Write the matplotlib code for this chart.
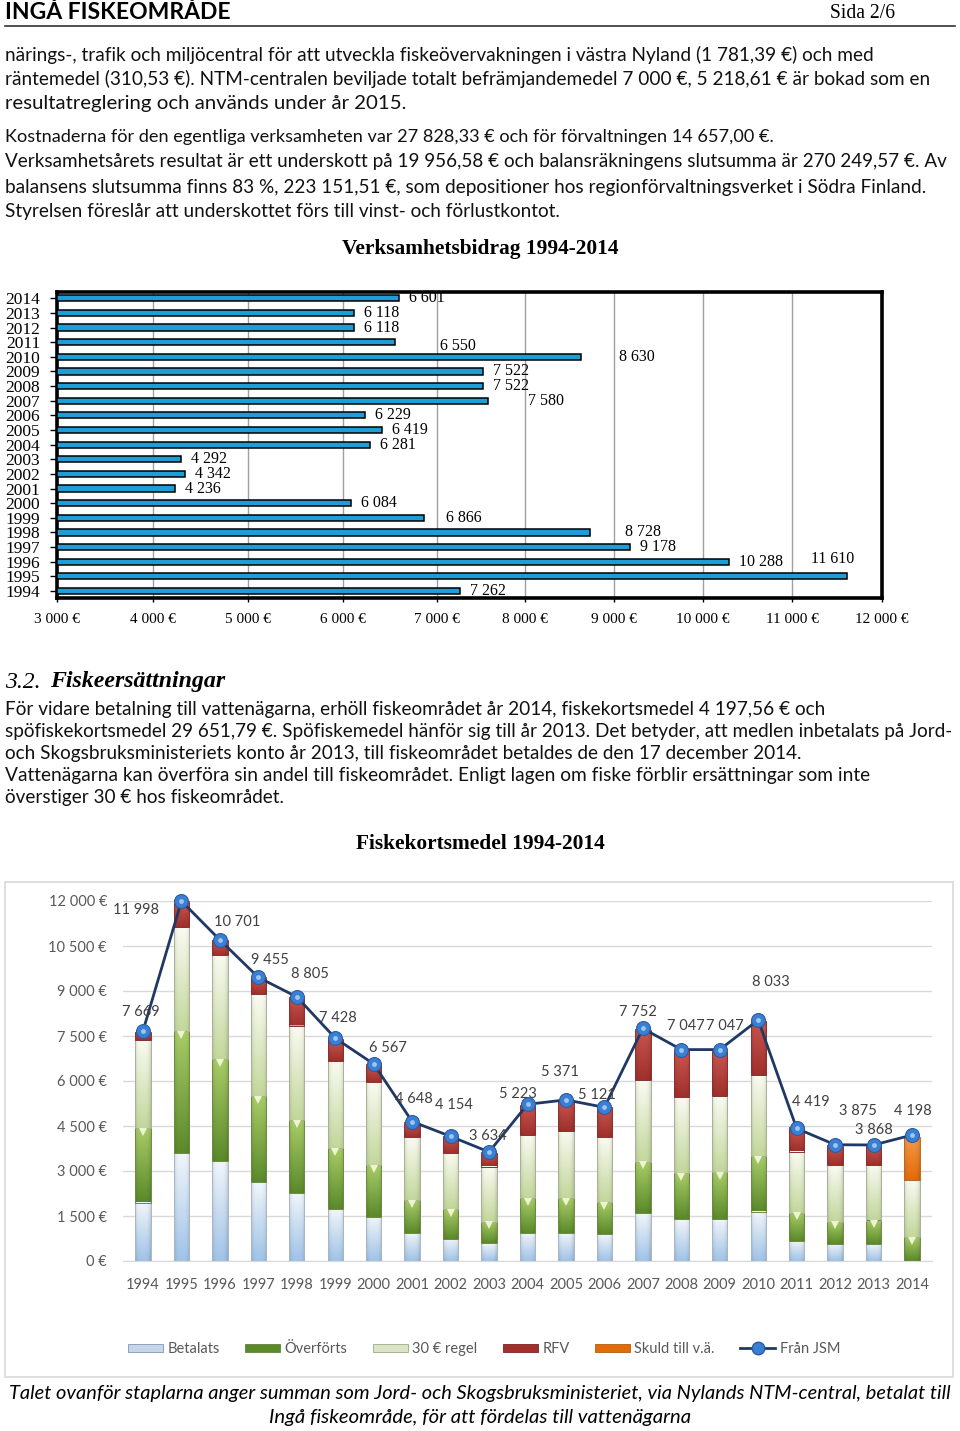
import numpy as np
import matplotlib
matplotlib.use("Agg")
import matplotlib.pyplot as plt
from matplotlib.colors import to_rgb
from matplotlib.patches import Patch, Rectangle
from matplotlib.lines import Line2D
from matplotlib.ticker import FuncFormatter, MultipleLocator, FixedLocator, NullLocator

# ---------------- data ----------------
years = list(range(1994, 2015))
verksamhetsbidrag = [7262, 11610, 10288, 9178, 8728, 6866, 6084, 4236, 4342, 4292,
                     6281, 6419, 6229, 7580, 7522, 7522, 8630, 6550, 6118, 6118, 6601]
bar_ticks = [3000, 4000, 5000, 6000, 7000, 8000, 9000, 10000, 11000, 12000]

betalats = [1950, 3600, 3320, 2620, 2280, 1725, 1480, 945, 735, 590, 945, 945, 900,
            1590, 1390, 1390, 1650, 680, 570, 570, 0]
overforts = [2480, 4080, 3425, 2890, 2430, 2035, 1725, 1090, 990, 725, 1145, 1145, 1080,
             1725, 1535, 1590, 1855, 935, 745, 780, 790]
regel30 = [2925, 3450, 3470, 3395, 3140, 2915, 2750, 2090, 1890, 1835, 2115, 2250, 2150,
           2725, 2540, 2525, 2705, 2035, 1890, 1855, 1915]
rfv = [265, 835, 480, 535, 925, 725, 590, 490, 535, 445, 1000, 1015, 970,
       1670, 1525, 1480, 1780, 780, 635, 635, 0]
skuld = [0] * 20 + [1445]
fran_jsm = [7669, 11998, 10701, 9455, 8805, 7428, 6567, 4648, 4154, 3634, 5223, 5371,
            5121, 7752, 7047, 7047, 8033, 4419, 3875, 3868, 4198]

series_names = ["Betalats", "Överförts", "30 € regel", "RFV", "Skuld till v.ä."]
line_name = "Från JSM"

# ---------------- layout / style ----------------
W, H = 960, 1431
fig = plt.figure(figsize=(W / 100, H / 100), dpi=100)
renderer = fig.canvas.get_renderer()

SANS = ["Lato", "DejaVu Sans"]
SERIF = ["Liberation Serif", "DejaVu Serif"]


def fx(px):
    return px / W


def fy(py):
    return 1 - py / H


def fit_text(x, y, s, width, ha="left", base=12, **kw):
    t = fig.text(fx(x), fy(y), s, ha=ha, va="center", fontsize=base, **kw)
    bb = t.get_window_extent(renderer)
    t.set_fontsize(base * width / bb.width)
    return t


def fmt_num(v):
    return f"{v:,}".replace(",", "\u00a0")


# ---- header ----
fit_text(5, 12, "INGÅ FISKEOMRÅDE", 225, family=SANS, weight="bold")
fit_text(830, 14, "Sida 2/6", 65, family=SERIF)
fig.add_artist(Line2D([fx(5), fx(955)], [fy(26), fy(26)], color="#333333", lw=1.2,
                      transform=fig.transFigure))

body_top = [
    ("närings-, trafik och miljöcentral för att utveckla fiskeövervakningen i västra Nyland (1 781,39 €) och med", 55, 865),
    ("räntemedel (310,53 €). NTM-centralen beviljade totalt befrämjandemedel 7 000 €, 5 218,61 € är bokad som en", 79, 920),
    ("resultatreglering och används under år 2015.", 104, 400),
    ("Kostnaderna för den egentliga verksamheten var 27 828,33 € och för förvaltningen 14 657,00 €.", 137, 768),
    ("Verksamhetsårets resultat är ett underskott på 19 956,58 € och balansräkningens slutsumma är 270 249,57 €. Av", 162, 938),
    ("balansens slutsumma finns 83 %, 223 151,51 €, som depositioner hos regionförvaltningsverket i Södra Finland.", 187, 916),
    ("Styrelsen föreslår att underskottet förs till vinst- och förlustkontot.", 212, 553),
]
for s, y, w in body_top:
    fit_text(5, y, s, w, family=SANS, color="#111111")

# ---- chart 1: horizontal bars ----
fit_text(480, 249, "Verksamhetsbidrag 1994-2014", 276, ha="center", family=SERIF,
         weight="bold")

ax1 = fig.add_axes([fx(57), fy(598), fx(882) - fx(57), (598 - 291.7) / H])
# the source chart's value axis is slightly uneven; reproduce its gridline spacing
scale_vals = np.array([2000, 3000, 4000, 5000, 6000, 7000, 8000, 9000, 10000, 11000,
                       12000, 13000], float)
scale_pos = np.array([-38.7, 57, 152.7, 248.3, 343.3, 437, 525.3, 614.3, 703.3, 792.3,
                      882.3, 972.3])


def _fwd(v):
    return np.interp(np.asarray(v, float), scale_vals, scale_pos)


def _inv(p):
    return np.interp(np.asarray(p, float), scale_pos, scale_vals)


ax1.set_xscale("function", functions=(_fwd, _inv))
ypos = np.arange(len(years))
ax1.barh(ypos, [v - 3000 for v in verksamhetsbidrag], left=3000, height=0.42,
         color="#1f9dd6", edgecolor="black", linewidth=1.1, zorder=3)
ax1.set_xlim(3000, 12000)
ax1.set_ylim(-0.48, 20.45)
ax1.xaxis.set_major_locator(FixedLocator(bar_ticks))
ax1.xaxis.set_minor_locator(NullLocator())
ax1.xaxis.set_major_formatter(FuncFormatter(lambda v, p: fmt_num(int(round(v))) + "\u00a0€"))
ax1.set_yticks(ypos)
ax1.set_yticklabels([str(y) for y in years])
ax1.grid(axis="x", color="#a0a0a0", lw=1, zorder=0)
for sp in ax1.spines.values():
    sp.set_linewidth(2.6)
    sp.set_color("black")
ax1.tick_params(axis="y", length=5, width=1, pad=7, labelsize=12.5, direction="out")
ax1.tick_params(axis="x", length=3, width=1, pad=8, labelsize=11, direction="out")
for lab in ax1.get_xticklabels() + ax1.get_yticklabels():
    lab.set_fontfamily(SERIF)

# label nudges (pixels: dx right, dy down) for manually moved labels
label_nudge = {2011: (35, 4), 2010: (28, 0), 2007: (30, 0), 1999: (12, 0),
               1998: (25, 0), 1995: (-46, -17)}
for i, (yr, v) in enumerate(zip(years, verksamhetsbidrag)):
    dx, dy = label_nudge.get(yr, (0, 0))
    ax1.annotate(fmt_num(v), (v, i), xytext=(10 + dx, -dy), textcoords="offset pixels",
                 ha="left", va="center", fontsize=11.5, family=SERIF, zorder=4)

# ---- section heading and text ----
fig.text(fx(5), fy(682), "3.2.", fontsize=17, family=SERIF, style="italic",
         va="center", ha="left")
fit_text(50, 682, "Fiskeersättningar", 175, family=SERIF, style="italic", weight="bold")

body_low = [
    ("För vidare betalning till vattenägarna, erhöll fiskeområdet år 2014, fiskekortsmedel 4 197,56 € och", 709, 817),
    ("spöfiskekortsmedel 29 651,79 €. Spöfiskemedel hänför sig till år 2013. Det betyder, att medlen inbetalats på Jord-", 731, 943),
    ("och Skogsbruksministeriets konto år 2013, till fiskeområdet betaldes de den 17 december 2014.", 754, 794),
    ("Vattenägarna kan överföra sin andel till fiskeområdet. Enligt lagen om fiske förblir ersättningar som inte", 776, 862),
    ("överstiger 30 € hos fiskeområdet.", 798, 278),
]
for s, y, w in body_low:
    fit_text(5, y, s, w, family=SANS, color="#111111")

fit_text(480, 844, "Fiskekortsmedel 1994-2014", 248, ha="center", family=SERIF,
         weight="bold")

# ---- chart 2: stacked bars + line ----
fig.add_artist(Rectangle((fx(5), fy(1377)), fx(953) - fx(5), (1377 - 882) / H,
                         transform=fig.transFigure, fill=False, edgecolor="#d9d9d9",
                         lw=1.2))

ax2 = fig.add_axes([fx(123), fy(1261), fx(932) - fx(123), 360 / H])
x = np.arange(len(years))
bw = 0.40

seg_styles = [  # (top colour, bottom colour, edge)
    ("#f2f6fb", "#9fc3e7", "#a9b6c6"),
    ("#a9cd68", "#5b8a2a", "#6f8a48"),
    ("#fafbf2", "#c3d79b", "#a8b096"),
    ("#c9554f", "#a0302c", "#8a3030"),
    ("#f59a48", "#e26b0a", "#b86a20"),
]
stack = [betalats, overforts, regel30, rfv, skuld]


def gradient(c_top, c_bot, n=64, m=24):
    top = np.array(to_rgb(c_top))
    bot = np.array(to_rgb(c_bot))
    t = np.linspace(0, 1, n)[:, None]
    col = bot + (top - bot) * t
    xs = np.linspace(-1, 1, m)
    shade = 1 - 0.13 * xs ** 4
    img = col[:, None, :] * shade[None, :, None]
    return np.clip(img, 0, 1)


bottom = np.zeros(len(years))
ov_top = None
for k, (vals, (ct, cb, ce)) in enumerate(zip(stack, seg_styles)):
    vals = np.array(vals, dtype=float)
    bars = ax2.bar(x, vals, bw, bottom=bottom, fill=False, edgecolor=ce, linewidth=0.7,
                   zorder=3)
    img = gradient(ct, cb)
    for rect, v in zip(bars, vals):
        if v <= 0:
            continue
        x0, y0 = rect.get_x(), rect.get_y()
        ax2.imshow(img, extent=[x0, x0 + rect.get_width(), y0, y0 + rect.get_height()],
                   origin="lower", aspect="auto", interpolation="bilinear", zorder=2)
    bottom = bottom + vals
    if k == 1:
        ov_top = bottom.copy()

# small bevel chevrons at the top of the "Överförts" segments
ax2.plot(x, ov_top - 130, ls="none", marker="v", markersize=6, color="#eef3d2",
         markeredgewidth=0, zorder=4)

ax2.plot(x, fran_jsm, color="#1f3864", lw=2, zorder=5, clip_on=False)
ax2.plot(x, fran_jsm, ls="none", marker="o", markersize=10, markerfacecolor="#3b7fd3",
         markeredgecolor="#2a5ca3", markeredgewidth=0.8, zorder=6, clip_on=False)
ax2.plot(x, fran_jsm, ls="none", marker="o", markersize=3.5, markerfacecolor="#9cc5f0",
         markeredgewidth=0, zorder=7, clip_on=False)

label_off = [(-2, 19), (-45, -9), (17, 18), (12, 17), (13, 23), (3, 20), (14, 16),
             (2, 23), (3, 31), (-1, 16), (-10, 10), (-6, 28), (-7, 12), (-5, 16),
             (5, 24), (5, 24), (13, 38), (14, 26), (23, 34), (0, 15), (1, 24)]
for xi, v, (dx, dy) in zip(x, fran_jsm, label_off):
    ax2.annotate(fmt_num(v), (xi, v), xytext=(dx, dy), textcoords="offset pixels",
                 ha="center", va="center", fontsize=10.5, family=SANS, color="#404040",
                 zorder=8)

ax2.set_xlim(-0.52, 20.52)
ax2.set_ylim(0, 12000)
ax2.yaxis.set_major_locator(MultipleLocator(1500))
ax2.yaxis.set_major_formatter(FuncFormatter(lambda v, p: fmt_num(int(v)) + "\u00a0€"))
ax2.set_xticks(x)
ax2.set_xticklabels([str(y) for y in years])
ax2.grid(axis="y", color="#d9d9d9", lw=1, zorder=0)
ax2.set_axisbelow(True)
for sp in ["top", "right", "left"]:
    ax2.spines[sp].set_visible(False)
ax2.spines["bottom"].set_color("#d9d9d9")
ax2.tick_params(axis="both", length=0, labelsize=10.5, labelcolor="#595959")
ax2.tick_params(axis="y", pad=11.5)
ax2.tick_params(axis="x", pad=12)
for lab in ax2.get_xticklabels() + ax2.get_yticklabels():
    lab.set_fontfamily(SANS)

handles = [Patch(facecolor=cb, edgecolor=ce, lw=0.7) for (ct, cb, ce) in seg_styles]
handles[0] = Patch(facecolor="#c5d6ea", edgecolor="#8ea2bd", lw=0.7)
handles[2] = Patch(facecolor="#dbe5c6", edgecolor="#a8b096", lw=0.7)
handles.append(Line2D([], [], color="#1f3864", lw=2, marker="o", markersize=9,
                      markerfacecolor="#3b7fd3", markeredgecolor="#2a5ca3"))
leg = fig.legend(handles, series_names + [line_name], loc="center",
                 bbox_to_anchor=(fx(484), fy(1349)), ncol=6, frameon=False,
                 handlelength=2.4, handleheight=0.45, handletextpad=0.3,
                 columnspacing=1.75, prop={"family": SANS, "size": 10.5})
for t in leg.get_texts():
    t.set_color("#595959")

# ---- caption ----
fit_text(480, 1393,
         "Talet ovanför staplarna anger summan som Jord- och Skogsbruksministeriet, via Nylands NTM-central, betalat till",
         940, ha="center", family=SANS, style="italic")
fit_text(480, 1418, "Ingå fiskeområde, för att fördelas till vattenägarna", 420,
         ha="center", family=SANS, style="italic")

fig.savefig("out.png", dpi=100)
